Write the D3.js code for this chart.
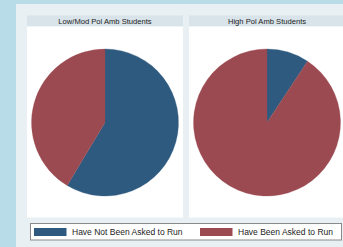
<!DOCTYPE html>
<html><head><meta charset="utf-8">
<script src="https://cdn.jsdelivr.net/npm/d3@7"></script>
<style>body{margin:0;background:#b9dde8;}svg{display:block;}</style>
</head><body>
<script>
const panels = ["Low/Mod Pol Amb Students", "High Pol Amb Students"];
const categories = ["Have Not Been Asked to Run", "Have Been Asked to Run"];
const notAsked = [58.6, 9.3];
const asked = [41.4, 90.7];
const colors = ["#2e5a7f", "#9b4a51"];

const W = 343, H = 247;
const svg = d3.select("body").append("svg").attr("width", W).attr("height", H);
svg.append("rect").attr("width", W).attr("height", H).attr("fill", "#b9dde8");
svg.append("rect").attr("x", 16).attr("y", 4).attr("width", W - 16).attr("height", H - 4).attr("fill", "#e8f0f3");

const font = "Liberation Sans, Arial, sans-serif";
const panelX = d3.scaleBand().domain(panels).range([27, 345]).paddingInner(6 / 162);
const pie = d3.pie().sort(null).value(d => d);
const arc = d3.arc().innerRadius(0).outerRadius(73.5);

panels.forEach((p, i) => {
  const x0 = panelX(p), bw = panelX.bandwidth();
  const g = svg.append("g");
  g.append("rect").attr("x", x0).attr("y", 15.5).attr("width", bw).attr("height", 11).attr("fill", "#d8e4ea");
  g.append("rect").attr("x", x0).attr("y", 26.5).attr("width", bw).attr("height", 191).attr("fill", "#ffffff");
  g.append("text").attr("x", x0 + bw / 2).attr("y", 23.6).attr("text-anchor", "middle")
    .attr("font-family", font).attr("font-size", 7.6).attr("fill", "#222").text(p);
  const pg = g.append("g").attr("transform", `translate(${x0 + bw / 2},122.5)`);
  pg.selectAll("path").data(pie([notAsked[i], asked[i]])).join("path")
    .attr("d", arc).attr("fill", (d, j) => colors[j]).attr("stroke", (d, j) => colors[j]).attr("stroke-width", 0.3);
});

// legend
const lg = svg.append("g");
lg.append("rect").attr("x", 30.5).attr("y", 223.5).attr("width", 311).attr("height", 16.5)
  .attr("fill", "#ffffff").attr("stroke", "#8a8a8a").attr("stroke-width", 1);
const legX = d3.scaleOrdinal().domain(categories).range([34, 200]);
categories.forEach((c, j) => {
  const x = legX(c);
  lg.append("rect").attr("x", x).attr("y", 228).attr("width", 32.5).attr("height", 8).attr("fill", colors[j]);
  lg.append("text").attr("x", x + 38).attr("y", 235).attr("font-family", font).attr("font-size", 8.5)
    .attr("fill", "#222").text(c);
});
</script>
</body></html>
